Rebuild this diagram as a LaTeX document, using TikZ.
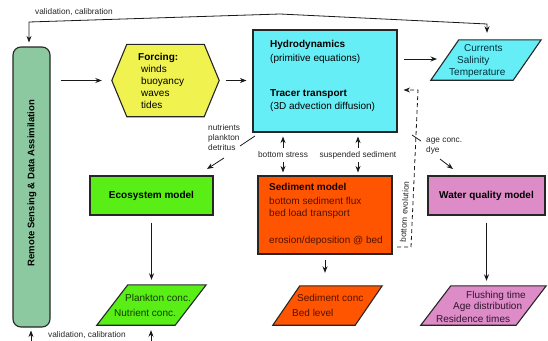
\documentclass[tikz,border=0pt]{standalone}
\usepackage{fontspec}
\setmainfont{Liberation Sans}
\usetikzlibrary{arrows.meta,calc}
\definecolor{rsfill}{RGB}{140,200,160}
\definecolor{forcfill}{RGB}{240,242,80}
\definecolor{hydfill}{RGB}{102,238,246}
\definecolor{ecofill}{RGB}{88,238,22}
\definecolor{sedfill}{RGB}{255,85,0}
\definecolor{wqfill}{RGB}{222,140,200}
\definecolor{sedtxt}{RGB}{80,18,0}
\definecolor{ecotxt}{RGB}{20,60,0}
\definecolor{hydtxt}{RGB}{0,50,60}
\definecolor{wqtxt}{RGB}{50,20,45}
\newcommand\mypara[3]{%
  \draw[box,fill=#3] ([xshift=#2pt]#1.north west) -- (#1.north east) -- ([xshift=-#2pt]#1.south east) -- (#1.south west) -- cycle;}
\begin{document}
\begin{tikzpicture}[x=1pt,y=-1pt,
  box/.style={draw=black!85,line width=1.1pt},
  ghost/.style={draw=none,inner sep=0pt},
  lbl/.style={inner sep=0pt,font=\fontsize{8.3}{10}\selectfont,text=black!85,align=left},
  txt/.style={inner sep=0pt,font=\fontsize{10}{12}\selectfont,align=left},
  btxt/.style={inner sep=0pt,font=\bfseries\fontsize{10}{12}\selectfont},
  ln/.style={line width=0.8pt,draw=black!90},
  arr/.style={ln,-{Stealth[length=6.5pt,width=5pt]}},
  darr/.style={ln,{Stealth[length=6.5pt,width=5pt]}-{Stealth[length=6.5pt,width=5pt]}}]
\useasboundingbox (0,0) rectangle (548,340);

% Remote sensing
\node[box,fill=rsfill,rounded corners=8pt,minimum width=37pt,minimum height=280pt] (rs) at (31.5,187) {};
\node[rotate=90,inner sep=0pt,font=\bfseries\fontsize{9.5}{11}\selectfont] (rst) at (32,183) {Remote Sensing \& Data Assimilation};

% Forcing hexagon
\node[ghost,minimum width=107pt,minimum height=72pt] (forc) at (165.5,80.5) {};
\draw[box,fill=forcfill] (forc.west) -- ([xshift=15pt]forc.north west) -- ([xshift=-15pt]forc.north east) -- (forc.east) -- ([xshift=-15pt]forc.south east) -- ([xshift=15pt]forc.south west) -- cycle;
\node[txt,anchor=west,font=\fontsize{10}{12}\selectfont] (forct) at (138,81) {\textbf{Forcing:}\\\hspace*{3pt}winds\\\hspace*{3pt}buoyancy\\\hspace*{3pt}waves\\\hspace*{3pt}tides};

% Hydrodynamics
\node[box,fill=hydfill,minimum width=144pt,minimum height=102pt] (hyd) at (325,81) {};
\node[txt,anchor=west,font=\fontsize{10}{14}\selectfont] (hydt1) at (270,52) {\textbf{Hydrodynamics}\\(primitive equations)};
\node[txt,anchor=west,font=\fontsize{10}{13}\selectfont] (hydt2) at (270,100.5) {\textbf{Tracer transport}\\(3D advection diffusion)};

% Currents
\node[ghost,minimum width=110pt,minimum height=40pt] (cur) at (486,60) {};
\mypara{cur}{28}{hydfill}
\node[txt,anchor=west,text=hydtxt] (curt1) at (464,48) {Currents};
\node[txt,anchor=west,text=hydtxt] (curt2) at (457,61) {Salinity};
\node[txt,anchor=west,text=hydtxt] (curt3) at (449,73) {Temperature};

% Ecosystem
\node[box,fill=ecofill,minimum width=123pt,minimum height=39pt,btxt] (eco) at (151.5,195.5) {Ecosystem model};

% Plankton
\node[ghost,minimum width=109pt,minimum height=40pt] (plk) at (151.5,305) {};
\mypara{plk}{31}{ecofill}
\node[txt,anchor=west,text=ecotxt] (plkt1) at (125,298) {Plankton conc.};
\node[txt,anchor=west,text=ecotxt] (plkt2) at (114,313) {Nutrient conc.};

% Sediment model
\node[box,fill=sedfill,minimum width=134pt,minimum height=78pt] (sed) at (325,215) {};
\node[btxt,anchor=west,text=black!90!red] (sedt1) at (269,187) {Sediment model};
\node[txt,anchor=west,text=sedtxt] (sedt2) at (269,207.5) {bottom sediment flux\\bed load transport};
\node[txt,anchor=west,text=sedtxt] (sedt3) at (269,241) {erosion/deposition @ bed};

% Sediment conc
\node[ghost,minimum width=109pt,minimum height=39pt] (sc) at (327.5,305.5) {};
\mypara{sc}{27}{sedfill}
\node[txt,anchor=west,text=sedtxt] (sct1) at (297,298) {Sediment conc};
\node[txt,anchor=west,text=sedtxt] (sct2) at (292,313) {Bed level};

% Water quality
\node[box,fill=wqfill,minimum width=117pt,minimum height=39pt,btxt] (wq) at (486.5,195.5) {Water quality model};

% Flushing
\node[ghost,minimum width=125pt,minimum height=39pt] (fl) at (483.5,305.5) {};
\mypara{fl}{30}{wqfill}
\node[txt,anchor=west,text=wqtxt] (flt1) at (466,296) {Flushing time};
\node[txt,anchor=west,text=wqtxt] (flt2) at (453,307) {Age distribution};
\node[txt,anchor=west,text=wqtxt] (flt3) at (436,318.5) {Residence times};

% main arrows
\draw[arr,shorten <=10pt,shorten >=10pt] (rs.east |- forc.west) -- (forc.west);
\draw[arr,shorten <=7pt,shorten >=6pt] (forc.east) -- (hyd.west |- forc.east);
\draw[arr,shorten <=6pt,shorten >=8pt] (hyd.east |- 0,59) -- (445,59);
\draw[arr,shorten <=7pt,shorten >=5pt] (eco.south) -- (plk.north -| eco.south);
\draw[arr,shorten <=5pt,shorten >=13pt] (sed.south -| 325,0) -- (sc.north -| 325,0);
\draw[arr,shorten <=7pt,shorten >=5pt] (wq.south) -- (fl.north -| wq.south);

% hydro -> ecosystem
\coordinate (n1) at (255,136); \coordinate (n2) at (240,146);
\coordinate (n3) at (224,158); \coordinate (n4) at (207,169);
\draw[ln] (n1) -- (n2);
\draw[arr] (n3) -- (n4);
\node[lbl,anchor=north west,font=\fontsize{8.3}{10}\selectfont] (nl) at (208,124) {nutrients\\plankton\\detritus};

% hydro <-> sediment
\coordinate (bs) at (283,155); \coordinate (ss) at (358,155);
\draw[arr] ([yshift=7pt]bs) -- ([yshift=-4pt]hyd.south -| bs);
\draw[arr] ([yshift=-7pt]bs) -- ([yshift=3pt]sed.north -| bs);
\draw[arr] ([yshift=7pt]ss) -- ([yshift=-4pt]hyd.south -| ss);
\draw[arr] ([yshift=-7pt]ss) -- ([yshift=3pt]sed.north -| ss);
\node[lbl] (bsl) at (bs) {bottom stress};
\node[lbl] (ssl) at (ss) {suspended sediment};

% hydro -> water quality
\coordinate (a1) at (412,135); \coordinate (a2) at (421,141);
\coordinate (a3) at (440,159); \coordinate (a4) at (453,169);
\draw[ln] (a1) -- (a2);
\draw[arr] (a3) -- (a4);
\node[lbl,anchor=north west] (al) at (426,138) {age conc.\\dye};

% bottom evolution
\coordinate (be1) at (397,247); \coordinate (be2) at (411,247); \coordinate (be3) at (418,90);
\draw[ln,dash pattern=on 4pt off 3pt,-{Stealth[length=6.5pt,width=5pt]}] (be1) -- (be2) -- (be3) -- ([xshift=6pt]hyd.east |- be3);
\node[lbl,rotate=87] (bel) at (404.5,212) {bottom evolution};

% validation top
\coordinate (v1) at (29,22); \coordinate (v2) at (280,14); \coordinate (v3) at (487,24);
\draw[darr] ([yshift=7pt]cur.north -| v3) -- (v3) -- (v2) -- (v1) -- ([yshift=4pt]rs.north -| v1);
\node[lbl,anchor=west] (vl1) at (35,12) {validation, calibration};

% validation bottom
\coordinate (w1) at (31,348); \coordinate (w2) at (151,348);
\draw[arr] (w1) -- ([yshift=-3pt]rs.south -| w1);
\draw[arr] (w2) -- ([yshift=-5pt]plk.south -| w2);
\node[lbl,anchor=west] (vl2) at (48,335.5) {validation, calibration};
\end{tikzpicture}
\end{document}
